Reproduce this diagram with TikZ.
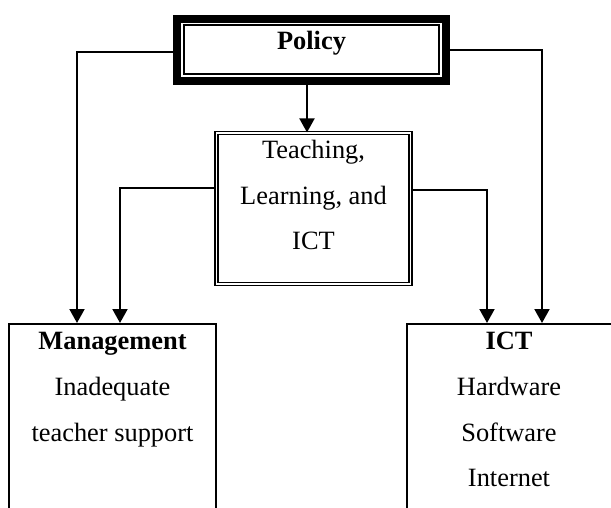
\documentclass[tikz,border=0pt]{standalone}
\usepackage{fontspec}
\setmainfont{Liberation Serif}
\usetikzlibrary{arrows.meta,calc}
\begin{document}
\begin{tikzpicture}[x=1pt,y=-1pt,
 txt/.style={font=\fontsize{26.4}{30}\selectfont, inner sep=0pt, anchor=base},
 txtb/.style={txt, font=\fontsize{26.4}{30}\selectfont\bfseries},
 conn/.style={line width=2pt, -{Triangle[length=14pt,width=15pt]}},
 plainbox/.style={draw, line width=2.2pt, inner sep=0pt, anchor=north west}]
\clip (0,0) rectangle (611,508);
% Policy box (thick outer, thin inner)
\node[draw, line width=8pt, inner sep=0pt, minimum width=269pt, minimum height=62pt] (policy) at (311.5,50) {};
\node[draw, line width=2pt, inner sep=0pt, minimum width=254.5pt, minimum height=49.5pt] (policyin) at (311.25,49.75) {};
\node[txtb] (tpol) at (311.5,50) {Policy};
% Teaching box (double line)
\node[draw, double, double distance=1.8pt, line width=1.2pt, inner sep=0pt, minimum width=194pt, minimum height=151pt] (teach) at (313.5,208.5) {};
\node[txt] (t1) at (313.5,159) {Teaching,};
\node[txt] (t2) at (313.5,205) {Learning, and};
\node[txt] (t3) at (313.5,250) {ICT};
% Management box
\node[plainbox, minimum width=207pt, minimum height=260pt] (mgmt) at (8,323) {};
\node[txtb] (m0) at (112.5,349) {Management};
\node[txt] (m1) at (112.5,395) {Inadequate};
\node[txt] (m2) at (112.5,441) {teacher support};
% ICT box
\node[plainbox, minimum width=205pt, minimum height=260pt] (ict) at (406,323) {};
\node[txtb] (i0) at (509,349) {ICT};
\node[txt] (i1) at (509,395) {Hardware};
\node[txt] (i2) at (509,441) {Software};
\node[txt] (i3) at (509,486) {Internet};
% connectors
\draw[conn] ([yshift=-2pt]policy.west) -| ([xshift=69pt]mgmt.north west);
\draw[conn] ([yshift=20.5pt]teach.west) -| ([xshift=112pt]mgmt.north west);
\draw[conn] ([yshift=18.5pt]teach.east) -| ([xshift=81pt]ict.north west);
\draw[conn] (policy.east) -| ([xshift=136pt]ict.north west);
\draw[conn] ([xshift=-4.5pt]policy.south) -- ([xshift=-6.5pt]teach.north);
\end{tikzpicture}
\end{document}
